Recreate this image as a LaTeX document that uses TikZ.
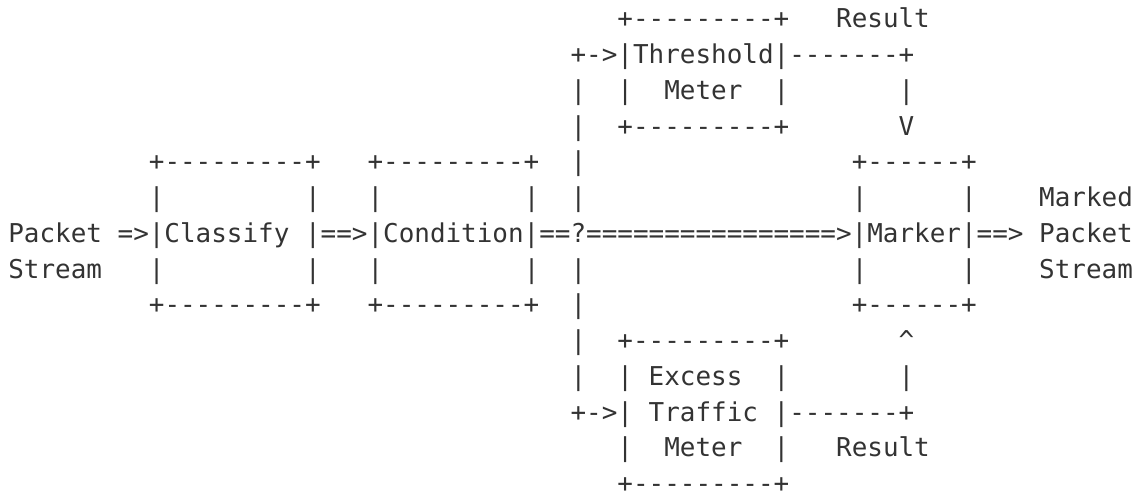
\documentclass[tikz,border=0pt]{standalone}
\usepackage{fontspec}
\setmonofont{DejaVu Sans Mono}
\definecolor{ink}{HTML}{333333}
\newlength\cw
\newcommand\gap[1]{\hspace*{#1\cw}}
\newcommand\asciifont{\ttfamily\fontsize{25.945pt}{35.7pt}\selectfont}
\begin{document}
\settowidth\cw{\asciifont x}%
\begin{tikzpicture}[txt/.style={anchor=base west, inner sep=0pt, outer sep=0pt, text depth=0pt, font=\asciifont, text=ink}]
\useasboundingbox (0,0) rectangle (1136pt,495pt);
\begin{scope}[shift={(8.3pt,467pt)}, y=-35.75pt]
\node[txt] (l0)  at (0,0)  {\gap{39}+---------+\gap{3}Result};
\node[txt] (l1)  at (0,1)  {\gap{36}+->|Threshold|-------+};
\node[txt] (l2)  at (0,2)  {\gap{36}|\gap{2}|\gap{2}Meter\gap{2}|\gap{7}|};
\node[txt] (l3)  at (0,3)  {\gap{36}|\gap{2}+---------+\gap{7}V};
\node[txt] (l4)  at (0,4)  {\gap{9}+---------+\gap{3}+---------+\gap{2}|\gap{17}+------+};
\node[txt] (l5)  at (0,5)  {\gap{9}|\gap{9}|\gap{3}|\gap{9}|\gap{2}|\gap{17}|\gap{6}|\gap{4}Marked};
\node[txt] (l6)  at (0,6)  {Packet\gap{1}=>|Classify\gap{1}|==>|Condition|==?================>|Marker|==>\gap{1}Packet};
\node[txt] (l7)  at (0,7)  {Stream\gap{3}|\gap{9}|\gap{3}|\gap{9}|\gap{2}|\gap{17}|\gap{6}|\gap{4}Stream};
\node[txt] (l8)  at (0,8)  {\gap{9}+---------+\gap{3}+---------+\gap{2}|\gap{17}+------+};
\node[txt] (l9)  at (0,9)  {\gap{36}|\gap{2}+---------+\gap{7}\textasciicircum};
\node[txt] (l10) at (0,10) {\gap{36}|\gap{2}|\gap{1}Excess\gap{2}|\gap{7}|};
\node[txt] (l11) at (0,11) {\gap{36}+->|\gap{1}Traffic\gap{1}|-------+};
\node[txt] (l12) at (0,12) {\gap{39}|\gap{2}Meter\gap{2}|\gap{3}Result};
\node[txt] (l13) at (0,13) {\gap{39}+---------+};
\end{scope}
\end{tikzpicture}
\end{document}
